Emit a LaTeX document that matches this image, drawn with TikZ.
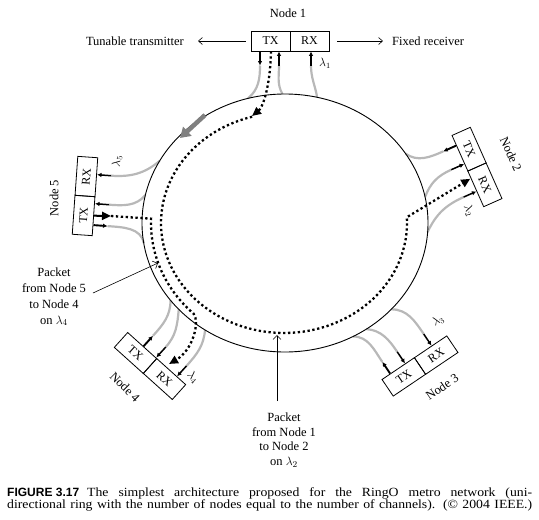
\documentclass[tikz,border=0pt]{standalone}
\usepackage{fontspec}
\setmainfont{Liberation Serif}
\setsansfont{Liberation Sans}
\newfontfamily\capfont{Liberation Serif}[FakeStretch=1.1]
\usetikzlibrary{arrows.meta}
\begin{document}
\begin{tikzpicture}[x=1pt,y=-1pt,
  every node/.style={inner sep=0pt, font=\fontsize{12.5}{14}\selectfont},
  box/.style={draw, line width=0.8pt, minimum width=39pt, minimum height=20pt, font=\fontsize{12}{14}\selectfont},
  ringline/.style={line width=0.9pt},
  fiber/.style={line width=2.2pt, draw=black!28},
  portout/.style={line width=1.9pt, -{Latex[length=4.5pt,width=4.5pt]}},
  portin/.style={line width=1.5pt, -{Latex[length=4.5pt,width=4.5pt]}},
  dots/.style={line width=2.3pt, dash pattern=on 2.3pt off 2.6pt},
  bigtip/.style={-{Triangle[length=9pt,width=8pt]}},
  txarrow/.style={line width=2pt, -{Triangle[length=9pt,width=8pt]}},
  thinarrow/.style={line width=0.6pt, -{Straight Barb[length=4pt,width=7pt]}},
  leader/.style={line width=0.6pt, -{Straight Barb[length=4pt,width=8pt]}},
  grayarr/.style={line width=4.5pt, draw=black!50, fill=black!50, -{Triangle[length=10pt,width=12pt]}},
  lam/.style={font=\fontsize{12}{14}\selectfont},
  lbl/.style={align=center}
]
\useasboundingbox (0,0) rectangle (539,520);

% ---------- ring attachment points ----------
\foreach \n/\a in {r1o/255,r1i/269,r1r/283,r2o/327.5,r2i/348.4,r2r/4,
                   r3o/61.6,r3i/55.3,r3r/42,r4o/143.2,r4i/138,r4r/124,
                   r5r/208.8,r5i/192.5,r5o/171}
  \coordinate (\n) at ({285+143*cos(\a)},{223+129*sin(\a)});

% ---------- port coordinates ----------
% node 1
\coordinate (e1o) at (260,51.4);  \coordinate (p1o) at (260,65.5);
\coordinate (e1i) at (279,51.4);  \coordinate (p1i) at (279,65.5);
\coordinate (e1r) at (311,51.4);  \coordinate (p1r) at (311,65.5);
\coordinate (d1s) at (271,51.4);  \coordinate (d1m) at (252,116);
% node 2
\coordinate (e2o) at (456.0,145.7); \coordinate (p2o) at (443.2,151.4);
\coordinate (e2i) at (464.1,164.0); \coordinate (p2i) at (451.3,169.7);
\coordinate (e2r) at (476.4,191.4); \coordinate (p2r) at (463.6,197.1);
\coordinate (d2t) at (470.2,178.8);
% node 3
\coordinate (e3o) at (390.1,373.5); \coordinate (p3o) at (382.3,361.9);
\coordinate (e3i) at (405.0,363.4); \coordinate (p3i) at (397.2,351.8);
\coordinate (e3r) at (431.5,345.6); \coordinate (p3r) at (423.7,334.0);
% node 4
\coordinate (e4o) at (143.6,346.2); \coordinate (p4o) at (153.0,335.8);
\coordinate (e4i) at (156.3,357.5); \coordinate (p4i) at (165.7,347.1);
\coordinate (e4r) at (177.1,376.3); \coordinate (p4r) at (186.5,365.9);
\coordinate (d4t) at (169,364);
% node 5
\coordinate (e5r) at (97.0,174.7);  \coordinate (p5r) at (111.0,175.7);
\coordinate (e5i) at (95.0,203.7);  \coordinate (p5i) at (109.0,204.7);
\coordinate (e5d) at (94.2,215.7);  \coordinate (d5t) at (111,216);
\coordinate (e5o) at (93.5,225.1);  \coordinate (p5o) at (107.5,226.1);

% ---------- fibers ----------
\draw[fiber] (r1o) to[out=40,in=-90] (p1o);
\draw[fiber] (r1i) to[out=120,in=-90] (p1i);
\draw[fiber] (r1r) to[out=100,in=-90] (p1r);
\draw[fiber] (r2o) to[out=-35,in=204] (p2o);
\draw[fiber] (r2i) to[out=70,in=204] (p2i);
\draw[fiber] (r2r) to[out=65,in=204] (p2r);
\draw[fiber] (r3o) to[out=0,in=124] (p3o);
\draw[fiber] (r3i) to[out=-5,in=124] (p3i);
\draw[fiber] (r3r) to[out=0,in=124] (p3r);
\draw[fiber] (r4o) to[out=-90,in=48] (p4o);
\draw[fiber] (r4i) to[out=-95,in=48] (p4i);
\draw[fiber] (r4r) to[out=-95,in=48] (p4r);
\draw[fiber] (r5r) to[out=220,in=-4] (p5r);
\draw[fiber] (r5i) to[out=230,in=-4] (p5i);
\draw[fiber] (r5o) to[out=100,in=-4] (p5o);

% ---------- ring ----------
\draw[ringline] (285,223) ellipse [x radius=143, y radius=129];

% ---------- direction arrow ----------
\coordinate (ga1) at (205,115); \coordinate (ga2) at (180,138);
\draw[grayarr] (ga1) -- (ga2);

% ---------- nodes ----------
\node[box] (tx1) at (270.5,41) {TX};
\node[box] (rx1) at (309.5,41) {RX};
\node (n1) at (288,13) {Node 1};
\node[anchor=east] (tt) at (184,41) {Tunable transmitter};
\node[anchor=west] (fr) at (392,41) {Fixed receiver};
\draw[thinarrow, shorten <=5pt, shorten >=14pt] (tx1.west) -- (tt.east);
\draw[thinarrow, shorten <=8pt, shorten >=9pt] (rx1.east) -- (fr.west);

\node[box, rotate=-66] (tx2) at (469.1,149.2) {TX};
\node[box, rotate=-66] (rx2) at (484.9,184.8) {RX};
\node[rotate=-66] (n2) at (511,154) {Node 2};

\node[box, rotate=34] (tx3) at (403.8,376.9) {TX};
\node[box, rotate=34] (rx3) at (436.2,355.1) {RX};
\node[rotate=34] (n3) at (442,387) {Node 3};

\node[box, rotate=-42] (tx4) at (135.5,353) {TX};
\node[box, rotate=-42] (rx4) at (164.5,379) {RX};
\node[rotate=-45] (n4) at (125,387) {Node 4};

\node[box, rotate=86] (tx5) at (83.6,215.5) {TX};
\node[box, rotate=86] (rx5) at (86.4,176.5) {RX};
\node[rotate=90] (n5) at (54,198) {Node 5};

% ---------- port arrows ----------
\draw[portout] (e1o) -- (p1o);
\draw[portin] (p1i) -- (e1i);
\draw[portin] (p1r) -- (e1r);
\draw[portout] (e2o) -- (p2o);
\draw[portin] (p2i) -- (e2i);
\draw[portin] (p2r) -- (e2r);
\draw[portout] (e3o) -- (p3o);
\draw[portin] (p3i) -- (e3i);
\draw[portin] (p3r) -- (e3r);
\draw[portout] (e4o) -- (p4o);
\draw[portin] (p4i) -- (e4i);
\draw[portin] (p4r) -- (e4r);
\draw[portin] (p5r) -- (e5r);
\draw[portin] (p5i) -- (e5i);
\draw[portout] (e5o) -- (p5o);

% ---------- wavelength labels ----------
\node[lam] (l1) at (325,63) {$\lambda_1$};
\node[lam, rotate=-66] (l2) at (469,210) {$\lambda_2$};
\node[lam, rotate=34] (l3) at (438,321) {$\lambda_3$};
\node[lam, rotate=-45] (l4) at (193,377) {$\lambda_4$};
\node[lam, rotate=86] (l5) at (117,161) {$\lambda_5$};

% ---------- packet paths ----------
\draw[dots, bigtip] (d1s) .. controls (270,90) and (262,108) .. (d1m);
\draw[dots, bigtip] plot[domain=255:-3, samples=90] ({284+123*cos(\x)},{223+110*sin(\x)}) -- (d2t);
\draw[txarrow] (e5d) -- (d5t);
\draw[dots, bigtip] (d5t) -- plot[domain=182:133, samples=40] ({285+134*cos(\x)},{223+124*sin(\x)})
   .. controls (200,322) and (193,350) .. (d4t);

% ---------- packet labels ----------
\node[lbl, font=\fontsize{12.5}{15.8}\selectfont] (lab5) at (54,297) {Packet\\from Node 5\\to Node 4\\on $\lambda_4$};
\coordinate (lab5s) at (93,293); \coordinate (lab5t) at (158,263);
\draw[leader] (lab5s) -- (lab5t);
\node[lbl, font=\fontsize{12.5}{14.6}\selectfont] (lab1) at (284,440) {Packet\\from Node 1\\to Node 2\\on $\lambda_2$};
\coordinate (lab1s) at (277,401); \coordinate (lab1t) at (277,335);
\draw[leader] (lab1s) -- (lab1t);

% ---------- caption ----------
\node[anchor=base west, font=\capfont\fontsize{12.5}{14}\selectfont] (cap1) at (7,496)
  {\makebox[525pt][s]{{\sffamily\bfseries\fontsize{12}{14}\selectfont\mbox{FIGURE 3.17}}\hspace{8pt}The simplest architecture proposed for the RingO metro network (uni-}};
\node[anchor=base west, font=\capfont\fontsize{12.5}{14}\selectfont] (cap2) at (7,508.5)
  {\makebox[525pt][s]{directional ring with the number of nodes equal to the number of channels). (© 2004 IEEE.)}};
\end{tikzpicture}
\end{document}
